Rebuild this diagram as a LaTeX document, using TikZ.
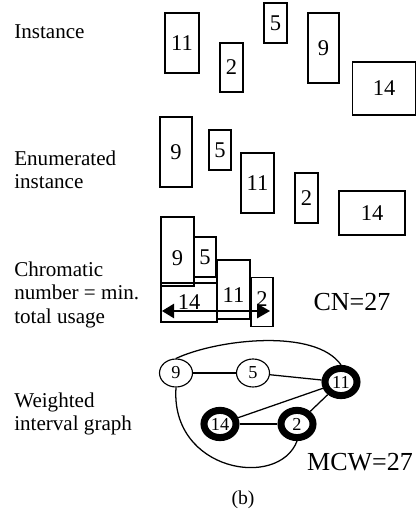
\documentclass[tikz,border=0pt]{standalone}
\usepackage{fontspec}
\setmainfont{Liberation Serif}
\usetikzlibrary{arrows.meta, shapes.geometric}

\begin{document}
\begin{tikzpicture}[
    every node/.style={font=\fontsize{15}{16.5}\selectfont},
    job/.style 2 args={draw, line width=0.9pt, inner sep=0pt,
        minimum width=#1cm, minimum height=#2cm,
        font=\fontsize{16}{18}\selectfont},
    rowlabel/.style={anchor=west, align=left, inner sep=0pt},
    vtx/.style={ellipse, draw, line width=0.8pt, inner sep=0pt,
        minimum width=0.825cm, minimum height=0.7cm,
        font=\fontsize{13}{15}\selectfont},
    heavy/.style={vtx, line width=5pt, minimum width=0.8cm, minimum height=0.68cm},
    edge/.style={line width=0.9pt},
    result/.style={font=\fontsize{18.5}{20}\selectfont},
]
\useasboundingbox (0, 0) rectangle (10.425, 12.85);

% === Row labels ===
\node[rowlabel] (lInst) at (0.35, 12.06) {Instance};
\node[rowlabel] (lEnum) at (0.35, 8.6) {Enumerated\\instance};
\node[rowlabel] (lChrom) at (0.35, 5.48) {Chromatic\\number = min.\\total usage};
\node[rowlabel] (lGraph) at (0.35, 2.5) {Weighted\\interval graph};

% === Instance ===
\node[job={0.85}{1.5}] (i11) at (4.55, 11.775) {11};
\node[job={0.575}{1.225}] (i2) at (5.7875, 11.1625) {2};
\node[job={0.575}{1.0}] (i5) at (6.8875, 12.275) {5};
\node[job={0.775}{1.75}] (i9) at (8.0875, 11.65) {9};
\node[job={1.575}{1.325}] (i14) at (9.6, 10.6375) {14};

% === Enumerated instance ===
\node[job={0.8}{1.75}] (e9) at (4.4, 9.05) {9};
\node[job={0.55}{1.0}] (e5) at (5.5, 9.1) {5};
\node[job={0.825}{1.5}] (e11) at (6.4375, 8.275) {11};
\node[job={0.575}{1.25}] (e2) at (7.6625, 7.9) {2};
\node[job={1.65}{1.1}] (e14) at (9.3, 7.525) {14};

% === Chromatic number (packed) ===
\node[job={0.825}{1.725}, text height=20pt] (c9) at (4.4375, 6.5625) {9};
\node[job={0.55}{1.0}] (c5) at (5.125, 6.425) {5};
\node[job={0.825}{1.475}, text height=18pt] (c11) at (5.8375, 5.6125) {11};
\node[job={0.55}{1.225}, text height=7pt] (c2) at (6.55, 5.3) {2};
\node[job={1.4}{0.975}] (c14) at (4.725, 5.2875) {14};

% total usage span
\coordinate (spanL) at (4.05, 5.075);
\coordinate (spanR) at (6.75, 5.075);
\draw[line width=0.9pt, {Triangle[length=0.3cm, width=0.36cm]}-{Triangle[length=0.32cm, width=0.36cm]}]
    (spanL) -- (spanR);
\node[result] (cn) at (8.8, 5.3) {CN=27};

% === Weighted interval graph ===
\node[vtx] (n9) at (4.4, 3.525) {9};
\node[vtx] (n5) at (6.325, 3.525) {5};
\node[heavy] (n11) at (8.525, 3.3) {11};
\node[heavy] (n14) at (5.5, 2.25) {14};
\node[heavy] (n2) at (7.425, 2.25) {2};

\draw[edge] (n9) -- (n5);
\draw[edge] (n5) -- (n11);
\draw[edge] (n14) -- (n11);
\draw[edge] (n14) -- (n2);
\draw[edge] (n2) -- (n11);
\draw[edge] (n9.north) to[out=25, in=125, looseness=0.7] (n11.north);
\draw[edge] (n9.south) .. controls +(266:2.1) and +(249:1.3) .. (n2.south);

\node[result] (mcw) at (9.0, 1.3) {MCW=27};

% caption
\node[font=\fontsize{14}{16}\selectfont] (cap) at (6.075, 0.35) {(b)};

\end{tikzpicture}
\end{document}
